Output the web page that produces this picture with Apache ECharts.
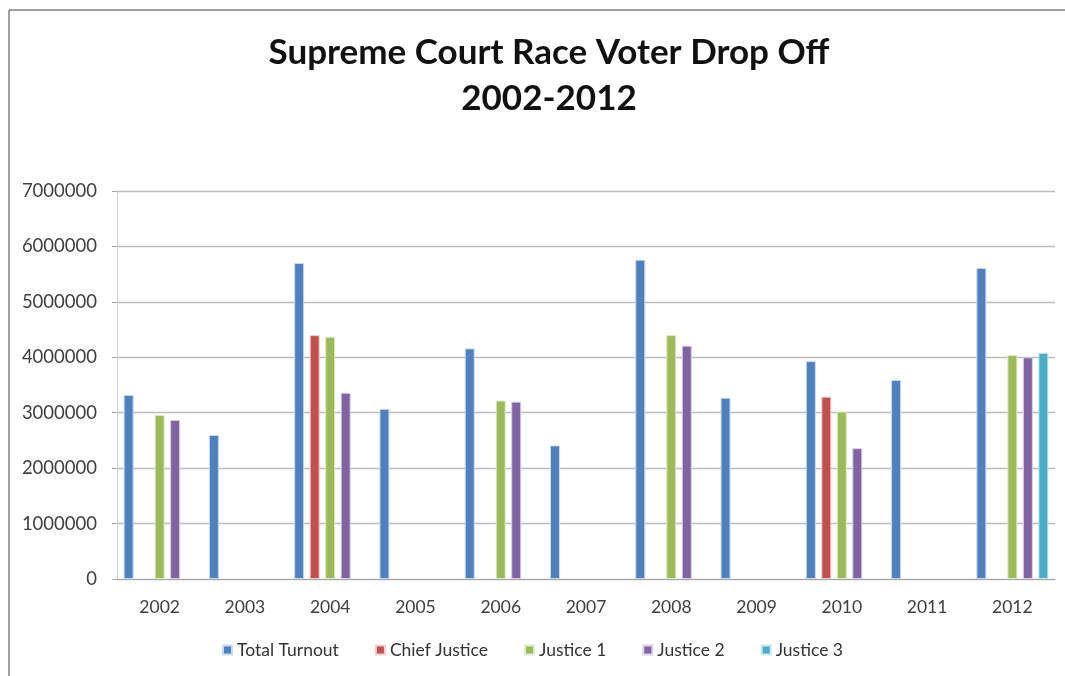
<!DOCTYPE html>
<html>
<head>
<meta charset="utf-8">
<script src="https://cdn.jsdelivr.net/npm/echarts@6/dist/echarts.min.js"></script>
<style>
  html, body { margin: 0; padding: 0; background: #ffffff; }
  #chart { width: 1065px; height: 676px; }
</style>
</head>
<body>
<div id="chart"></div>
<script>
// years on the x axis
const years = ["2002", "2003", "2004", "2005", "2006", "2007", "2008", "2009", "2010", "2011", "2012"];

// votes per race, null where there was no race that year
const totalTurnout = [3320000, 2600000, 5700000, 3070000, 4160000, 2410000, 5760000, 3270000, 3930000, 3590000, 5610000];
const chiefJustice = [null, null, 4400000, null, null, null, null, null, 3290000, null, null];
const justice1 = [2960000, null, 4370000, null, 3220000, null, 4400000, null, 3020000, null, 4040000];
const justice2 = [2870000, null, 3360000, null, 3200000, null, 4210000, null, 2360000, null, 4000000];
const justice3 = [null, null, null, null, null, null, null, null, null, null, 4080000];

const yTicks = [0, 1000000, 2000000, 3000000, 4000000, 5000000, 6000000, 7000000];

const seriesDefs = [
  { name: "Total Turnout", data: totalTurnout, color: "#4F81BD", glow: "#c9d9ee" },
  { name: "Chief Justice", data: chiefJustice, color: "#C0504D", glow: "#efcfce" },
  { name: "Justice 1", data: justice1, color: "#9BBB59", glow: "#e0ebcc" },
  { name: "Justice 2", data: justice2, color: "#8064A2", glow: "#d9cfe6" },
  { name: "Justice 3", data: justice3, color: "#4BACC6", glow: "#c9e7ef" }
];

const font = "Lato, 'Open Sans', sans-serif";
const chart = echarts.init(document.getElementById("chart"), null, { renderer: "canvas" });

chart.setOption({
  backgroundColor: "#ffffff",
  animation: false,
  title: {
    text: "Supreme Court Race Voter Drop Off\n2002-2012",
    left: 544,
    top: 25,
    textAlign: "center",
    textStyle: {
      fontFamily: font,
      fontWeight: "bold",
      fontSize: 35,
      lineHeight: 46,
      color: "#111111"
    }
  },
  legend: {
    bottom: 12,
    left: "center",
    itemWidth: 9,
    itemHeight: 9,
    itemGap: 36,
    icon: "rect",
    textStyle: { fontFamily: font, fontSize: 17.5, color: "#333333" },
    data: seriesDefs.map(s => s.name)
  },
  grid: { left: 117, right: 10, top: 191, bottom: 97, containLabel: false },
  xAxis: {
    type: "category",
    data: years,
    axisLine: { lineStyle: { color: "#a6a6a6", width: 1 } },
    axisTick: { show: false },
    axisLabel: { fontFamily: font, fontSize: 17.5, color: "#404040", margin: 19 }
  },
  yAxis: {
    type: "value",
    min: yTicks[0],
    max: yTicks[yTicks.length - 1],
    interval: 1000000,
    axisLine: { show: true, lineStyle: { color: "#d0d0d0" } },
    axisTick: { show: true, length: 5, lineStyle: { color: "#a6a6a6" } },
    splitLine: { lineStyle: { color: "#bdbdbd", width: 1.3 } },
    axisLabel: {
      fontFamily: font,
      fontSize: 18.5,
      color: "#404040",
      margin: 20,
      formatter: v => String(v)
    }
  },
  series: seriesDefs.map(s => ({
    name: s.name,
    type: "bar",
    data: s.data,
    barWidth: 10,
    barGap: "55%",
    itemStyle: {
      color: s.color,
      borderColor: s.glow,
      borderWidth: 1
    }
  })),
  graphic: [
    { type: "line", shape: { x1: 9, y1: 10, x2: 9, y2: 676 }, style: { stroke: "#7f7f7f", lineWidth: 1.5 } },
    { type: "line", shape: { x1: 9, y1: 10, x2: 1065, y2: 10 }, style: { stroke: "#7f7f7f", lineWidth: 1.5 } }
  ]
});
</script>
</body>
</html>
